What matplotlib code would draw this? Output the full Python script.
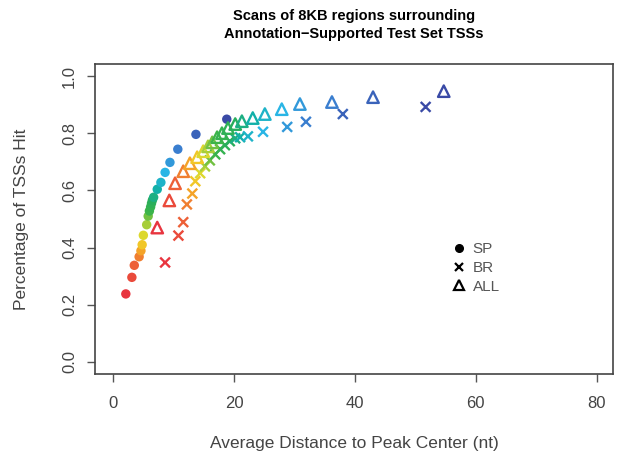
import numpy as np
import matplotlib
matplotlib.use("Agg")
import matplotlib.pyplot as plt
from matplotlib.lines import Line2D
from matplotlib.colors import LinearSegmentedColormap

plt.rcParams['font.family'] = ['Liberation Sans', 'DejaVu Sans']

# SP series (filled circles)
sp_x = [2.1, 3.1, 3.5, 4.3, 4.6, 4.8, 5.0, 5.55, 5.8, 6.0, 6.2, 6.35, 6.5, 6.7,
        7.3, 7.9, 8.6, 9.4, 10.7, 13.7, 18.8]
sp_y = [0.238, 0.296, 0.338, 0.368, 0.389, 0.410, 0.443, 0.480, 0.510, 0.528,
        0.542, 0.555, 0.566, 0.576, 0.604, 0.628, 0.663, 0.698, 0.744, 0.796, 0.849]

# BR series (x markers)
br_x = [8.6, 10.8, 11.6, 12.2, 13.1, 13.6, 14.4, 15.2, 16.0, 16.9, 17.7, 18.5,
        19.3, 20.2, 21.0, 22.3, 24.8, 28.8, 31.9, 38.0, 51.7]
br_y = [0.348, 0.442, 0.489, 0.551, 0.589, 0.632, 0.660, 0.684, 0.705, 0.726,
        0.744, 0.758, 0.772, 0.782, 0.786, 0.789, 0.805, 0.822, 0.840, 0.867, 0.892]

# ALL series (open triangles)
all_x = [7.3, 9.3, 10.25, 11.6, 12.7, 13.9, 14.9, 15.7, 16.4, 17.2, 18.0, 19.0,
         20.2, 21.3, 23.1, 25.1, 27.9, 30.9, 36.2, 43.0, 54.7]
all_y = [0.470, 0.565, 0.625, 0.667, 0.695, 0.716, 0.737, 0.754, 0.768, 0.786,
         0.800, 0.818, 0.832, 0.842, 0.853, 0.867, 0.884, 0.902, 0.909, 0.926, 0.947]

# washed-out printed rainbow, red -> dark blue
rainbow = LinearSegmentedColormap.from_list('printed', [
    (0.00, '#e8353f'), (0.12, '#ee6a35'), (0.22, '#f5b125'), (0.28, '#eedc2a'),
    (0.36, '#9ccc3c'), (0.45, '#3cb44a'), (0.60, '#28ae5c'), (0.70, '#12b0a8'),
    (0.80, '#29b5e5'), (0.90, '#3a7fd0'), (1.00, '#3a4aa6')])
n = len(sp_x)
cols = [rainbow(i / (n - 1)) for i in range(n)]

fig = plt.figure(figsize=(6.17, 4.54), dpi=100)
ax = fig.add_axes([95 / 617, 1 - 374 / 454, 518 / 617, 310 / 454])

ax.scatter(sp_x, sp_y, c=cols, marker='o', s=46, linewidths=0)
ax.scatter(br_x, br_y, c=cols, marker='x', s=50, linewidths=1.7)
ax.scatter(all_x, all_y, facecolors='none', edgecolors=cols, marker='^', s=68,
           linewidths=1.7)

ax.set_xlim(-3.0, 82.7)
ax.set_ylim(-0.042, 1.042)
ax.set_xticks([0, 20, 40, 60, 80])
ax.set_yticks([0.0, 0.2, 0.4, 0.6, 0.8, 1.0])
ax.set_yticklabels(['0.0', '0.2', '0.4', '0.6', '0.8', '1.0'], rotation=90, va='center')
ax.tick_params(axis='x', pad=10)
ax.tick_params(axis='y', pad=7)
ax.tick_params(direction='out', length=6, width=1.0, colors='#555555',
               labelcolor='#444444', labelsize=12)
for s in ax.spines.values():
    s.set_color('#444444')
    s.set_linewidth(1.2)

ax.set_xlabel('Average Distance to Peak Center (nt)', fontsize=12.5, color='#444444', labelpad=18)
ax.set_ylabel('Percentage of TSSs Hit', fontsize=12.5, color='#444444', labelpad=24)
ax.set_title('Scans of 8KB regions surrounding\nAnnotation\u2212Supported Test Set TSSs',
             fontsize=10.5, fontweight='bold', pad=19, linespacing=1.3)

handles = [
    Line2D([], [], linestyle='none', marker='o', color='black', markersize=5.5),
    Line2D([], [], linestyle='none', marker='x', color='black', markersize=5.5, markeredgewidth=1.6),
    Line2D([], [], linestyle='none', marker='^', markerfacecolor='none',
           markeredgecolor='black', markersize=7, markeredgewidth=1.6),
]
ax.legend(handles, ['SP', 'BR', 'ALL'], loc='center left',
          bbox_to_anchor=((436 - 95) / 518, 1 - (268 - 64) / 310),
          frameon=False, fontsize=11, labelcolor='#555555',
          handletextpad=0.3, labelspacing=0.3, handlelength=1.2)

fig.savefig('out.png', dpi=100)
